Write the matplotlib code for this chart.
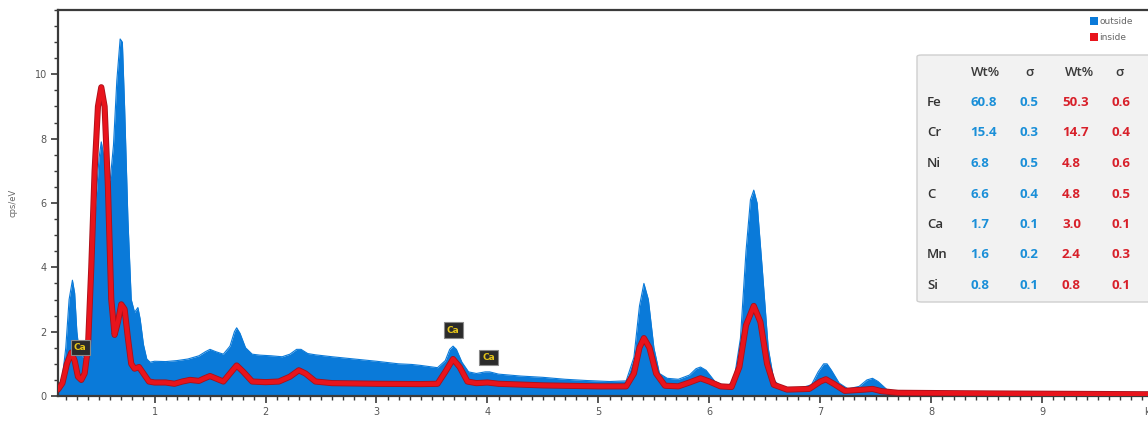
import matplotlib
matplotlib.use("Agg")
import matplotlib.pyplot as plt
from matplotlib.patches import Rectangle, FancyBboxPatch
from matplotlib.ticker import MultipleLocator

# ---------------- data ----------------
outside_kev = [0.13, 0.17, 0.20, 0.23, 0.26, 0.28, 0.30, 0.32, 0.35, 0.38, 0.41, 0.44, 0.47,
               0.50, 0.52, 0.54, 0.57, 0.60, 0.63, 0.66, 0.69, 0.71, 0.73, 0.76, 0.79, 0.82,
               0.85, 0.87, 0.90, 0.93, 0.96, 1.00, 1.10, 1.20, 1.30, 1.40, 1.46, 1.50, 1.55,
               1.62, 1.68, 1.72, 1.74, 1.77, 1.82, 1.88, 1.95, 2.05, 2.15, 2.22, 2.28, 2.32,
               2.38, 2.45, 2.60, 2.80, 3.00, 3.20, 3.32, 3.40, 3.55, 3.62, 3.66, 3.69, 3.72,
               3.77, 3.83, 3.90, 3.98, 4.02, 4.10, 4.30, 4.50, 4.70, 4.90, 5.10, 5.25, 5.32,
               5.37, 5.41, 5.45, 5.50, 5.55, 5.62, 5.72, 5.82, 5.88, 5.92, 5.97, 6.05, 6.15,
               6.22, 6.28, 6.33, 6.37, 6.40, 6.43, 6.48, 6.53, 6.58, 6.65, 6.80, 6.92, 6.98,
               7.03, 7.06, 7.10, 7.17, 7.25, 7.35, 7.42, 7.47, 7.52, 7.60, 7.70, 8.00, 8.30,
               8.50, 9.00, 9.50, 10.20]
outside_cps = [0.25, 0.6, 1.5, 3.0, 3.6, 3.2, 2.0, 1.4, 1.2, 1.3, 2.0, 4.0, 6.0,
               7.4, 7.9, 7.5, 6.8, 6.7, 7.8, 9.8, 11.1, 11.0, 9.0, 5.5, 3.0, 2.6,
               2.75, 2.4, 1.6, 1.15, 1.05, 1.08, 1.07, 1.10, 1.15, 1.25, 1.38, 1.45, 1.38,
               1.30, 1.55, 2.0, 2.12, 1.95, 1.5, 1.3, 1.27, 1.25, 1.22, 1.3, 1.45, 1.45,
               1.32, 1.28, 1.22, 1.15, 1.08, 1.0, 0.98, 0.95, 0.88, 1.1, 1.45, 1.55, 1.45,
               1.05, 0.75, 0.7, 0.75, 0.75, 0.68, 0.62, 0.58, 0.52, 0.48, 0.45, 0.47, 1.2,
               2.8, 3.5, 3.0, 1.5, 0.7, 0.55, 0.52, 0.65, 0.85, 0.9, 0.8, 0.45, 0.3,
               0.45, 1.8, 4.5, 6.1, 6.4, 6.0, 3.8, 1.5, 0.5, 0.25, 0.22, 0.35, 0.75,
               1.0, 1.0, 0.8, 0.4, 0.22, 0.3, 0.5, 0.55, 0.45, 0.2, 0.12, 0.1, 0.1,
               0.08, 0.07, 0.06, 0.05]

inside_kev = [0.13, 0.17, 0.21, 0.25, 0.28, 0.31, 0.34, 0.37, 0.40, 0.43, 0.46, 0.49, 0.52,
              0.55, 0.58, 0.61, 0.64, 0.67, 0.70, 0.73, 0.76, 0.79, 0.82, 0.86, 0.90, 0.95,
              1.00, 1.10, 1.18, 1.25, 1.32, 1.40, 1.45, 1.50, 1.55, 1.62, 1.68, 1.74, 1.80,
              1.88, 2.00, 2.12, 2.22, 2.30, 2.36, 2.45, 2.60, 3.00, 3.40, 3.55, 3.62, 3.69,
              3.75, 3.82, 3.90, 4.00, 4.10, 4.50, 5.00, 5.25, 5.32, 5.37, 5.41, 5.46, 5.52,
              5.60, 5.72, 5.82, 5.92, 6.00, 6.10, 6.20, 6.27, 6.33, 6.40, 6.46, 6.52, 6.58,
              6.70, 6.90, 7.00, 7.05, 7.12, 7.22, 7.40, 7.47, 7.55, 7.70, 8.50, 10.20]
inside_cps = [0.2, 0.4, 1.0, 1.35, 1.1, 0.6, 0.5, 0.7, 1.5, 4.0, 7.0, 9.0, 9.6,
              9.0, 6.5, 3.0, 1.9, 2.3, 2.85, 2.7, 1.8, 1.0, 0.85, 0.9, 0.7, 0.45,
              0.42, 0.42, 0.38, 0.45, 0.5, 0.47, 0.55, 0.62, 0.55, 0.45, 0.7, 0.95, 0.75,
              0.45, 0.43, 0.45, 0.6, 0.8, 0.7, 0.45, 0.4, 0.38, 0.37, 0.38, 0.75, 1.15,
              0.9, 0.45, 0.4, 0.42, 0.38, 0.33, 0.3, 0.3, 0.7, 1.5, 1.8, 1.5, 0.7,
              0.32, 0.3, 0.42, 0.55, 0.45, 0.3, 0.28, 0.9, 2.2, 2.8, 2.3, 1.0, 0.35,
              0.2, 0.22, 0.45, 0.52, 0.38, 0.16, 0.2, 0.22, 0.15, 0.1, 0.08, 0.05]

marker_kev = [0.33, 3.69, 4.01]
marker_cps = [1.5, 2.05, 1.2]
marker_label = "Ca"

elements = ["Fe", "Cr", "Ni", "C", "Ca", "Mn", "Si"]
outside_wt = ["60.8", "15.4", "6.8", "6.6", "1.7", "1.6", "0.8"]
outside_sigma = ["0.5", "0.3", "0.5", "0.4", "0.1", "0.2", "0.1"]
inside_wt = ["50.3", "14.7", "4.8", "4.8", "3.0", "2.4", "0.8"]
inside_sigma = ["0.6", "0.4", "0.6", "0.5", "0.1", "0.3", "0.1"]
table_headers = ["Wt%", "σ", "Wt%", "σ"]

x_ticks = [1, 2, 3, 4, 5, 6, 7, 8, 9, 10]
x_tick_labels = ["1", "2", "3", "4", "5", "6", "7", "8", "9", "keV"]
y_ticks = [0, 2, 4, 6, 8, 10]

BLUE = "#0a7ad9"
RED = "#e8141c"
TXT_BLUE = "#1a8fd8"
TXT_RED = "#d8202a"

# ---------------- figure ----------------
W, H = 1148, 423
fig = plt.figure(figsize=(W / 100, H / 100), dpi=100)
fig.patch.set_facecolor("white")

ax_left = 58 / W
ax_bottom = (H - 396) / H
ax_width = (1171 - 58) / W
ax_height = (396 - 10) / H
ax = fig.add_axes([ax_left, ax_bottom, ax_width, ax_height])

ax.fill_between(outside_kev, 0, outside_cps, color=BLUE, linewidth=0, zorder=2)
ax.plot(outside_kev, outside_cps, color=BLUE, linewidth=0.8, zorder=2)
ax.plot(inside_kev, inside_cps, color="#a8101a", linewidth=4.4,
        solid_joinstyle="round", solid_capstyle="round", zorder=3)
ax.plot(inside_kev, inside_cps, color=RED, linewidth=3.2,
        solid_joinstyle="round", solid_capstyle="round", zorder=4)

for xk, yk in zip(marker_kev, marker_cps):
    ax.annotate(marker_label, xy=(xk, yk - 0.35), xytext=(xk, yk),
                ha="center", va="center", fontsize=6.5, color="#e6c619",
                fontweight="bold", zorder=6,
                bbox=dict(boxstyle="square,pad=0.35", fc="#2b2b2b",
                          ec="#8a8a8a", lw=0.8))

ax.set_xlim(0.13, 10.16)
ax.set_ylim(0, 12)
ax.set_xticks(x_ticks)
ax.set_xticklabels(x_tick_labels)
ax.set_yticks(y_ticks)
ax.xaxis.set_minor_locator(MultipleLocator(0.1))
ax.yaxis.set_minor_locator(MultipleLocator(0.5))
ax.tick_params(axis="both", which="major", direction="out", length=5, width=1.2,
               color="#3a3a3a", labelsize=7, labelcolor="#555555", pad=3)
ax.tick_params(axis="both", which="minor", direction="out", length=3, width=1.0,
               color="#3a3a3a")
for side in ["left", "bottom", "top", "right"]:
    ax.spines[side].set_color("#3a3a3a")
    ax.spines[side].set_linewidth(1.6)
ax.set_ylabel("cps/eV", fontsize=6, color="#666666", labelpad=12)

# legend
for i, (lab, col) in enumerate([("outside", BLUE), ("inside", RED)]):
    yc = 21 + i * 16
    fig.patches.append(Rectangle((1090 / W, (H - yc - 4) / H), 8 / W, 8 / H,
                                 transform=fig.transFigure, fc=col, ec="none",
                                 figure=fig))
    fig.text(1099 / W, (H - yc) / H, lab, fontsize=6.5, color="#666666",
             va="center", ha="left")

# table box
box = FancyBboxPatch((917 / W, (H - 302) / H), (1160 - 917) / W, (302 - 55) / H,
                     boxstyle="round,pad=0,rounding_size=0.004",
                     transform=fig.transFigure, fc="#f2f2f2", ec="#cfcfcf",
                     lw=1.0, figure=fig, zorder=5)
fig.patches.append(box)

fnt = dict(family=["Open Sans", "DejaVu Sans"], fontsize=9.5, zorder=7)
col_x = [985, 1030, 1079, 1120]
row0 = 72
row_dy = 30.5
for cx, htxt in zip(col_x, table_headers):
    fig.text(cx / W, (H - row0) / H, htxt, ha="center", va="center",
             color="#3a3a3a", fontweight="semibold", **fnt)
for r, el in enumerate(elements):
    yy = (H - (row0 + (r + 1) * row_dy)) / H
    fig.text(927 / W, yy, el, ha="left", va="center", color="#333333",
             fontweight="semibold", **fnt)
    vals = [(outside_wt[r], TXT_BLUE), (outside_sigma[r], TXT_BLUE),
            (inside_wt[r], TXT_RED), (inside_sigma[r], TXT_RED)]
    for cx, (v, c) in zip([970, 1020, 1062, 1112], vals):
        fig.text(cx / W, yy, v, ha="left", va="center", color=c,
                 fontweight="bold", **fnt)

fig.savefig("out.png", dpi=100)
